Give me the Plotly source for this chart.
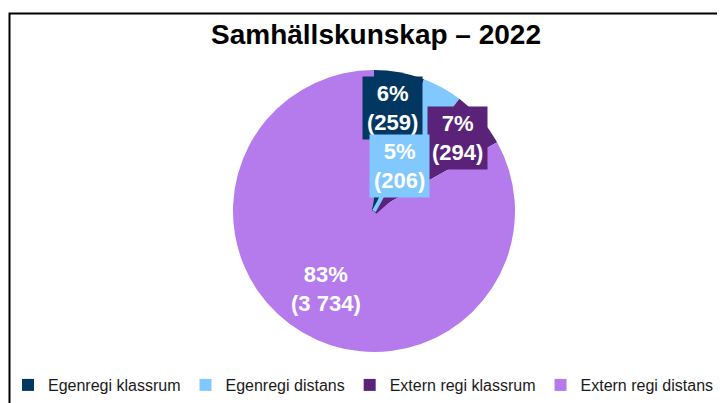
import plotly.graph_objects as go

# Data
categories = ["Egenregi klassrum", "Egenregi distans", "Extern regi klassrum", "Extern regi distans"]
values = [259, 206, 294, 3734]
colors = ["#023762", "#80C8FD", "#5A2379", "#B57AEC"]
title_text = "Samhällskunskap – 2022"

W, H = 725, 403
OFF = 8  # page body margin

def px(x):
    return (x - OFF) / W

def py(y):
    return 1 - (y - OFF) / H

total = sum(values)

def fmt_num(v):
    return f"{v:,}".replace(",", " ")

labels_text = [f"{round(v / total * 100)}%<br>({fmt_num(v)})" for v in values]

# pie geometry in window pixels
cx, cy, r = 374, 211, 141
dom_x = [px(cx - r), px(cx + r)]
dom_y = [py(cy + r), py(cy - r)]
pcx, pcy = px(cx), py(cy)

fig = go.Figure()
fig.add_trace(go.Pie(
    labels=categories,
    values=values,
    marker=dict(colors=colors, line=dict(width=0)),
    sort=False,
    direction="clockwise",
    rotation=0,
    textinfo="none",
    domain=dict(x=dom_x, y=dom_y),
    showlegend=True,
))

label_font = dict(family="Arial", size=22, color="white", weight="bold")
# label offsets (pixels, from pie centre) for callouts
offsets = [(18, -103), (25, -45), (83, -73), (-48, 78)]
arrow_w = [4, 4, 7, 0]
draw_order = [2, 0, 1]
annotations = []
for i in draw_order:
    ox, oy = offsets[i]
    annotations.append(dict(
        x=pcx, y=pcy, xref="paper", yref="paper",
        text=labels_text[i], showarrow=True, ax=ox, ay=oy,
        arrowhead=0, arrowwidth=arrow_w[i], arrowcolor=colors[i], standoff=0,
        bgcolor=colors[i], borderpad=4,
        font=label_font, align="center",
    ))
ox, oy = offsets[3]
annotations.append(dict(
    x=pcx, y=pcy, xref="paper", yref="paper",
    text=labels_text[3], showarrow=False, xshift=ox, yshift=-oy,
    font=label_font, align="center",
))

# title
annotations.append(dict(
    x=px(375.5), y=py(35), xref="paper", yref="paper",
    text=title_text, showarrow=False, xanchor="center", yanchor="middle",
    font=dict(family="Arial", size=28, color="black", weight="bold"),
))

fig.update_layout(
    width=W, height=H,
    margin=dict(l=0, r=0, t=0, b=0),
    paper_bgcolor="white",
    plot_bgcolor="white",
    annotations=annotations,
    legend=dict(
        orientation="h",
        x=0, xanchor="left",
        y=py(385), yanchor="middle",
        font=dict(family="Arial", size=16, color="#1a1a1a"),
        traceorder="normal",
        bgcolor="rgba(0,0,0,0)",
    ),
    shapes=[dict(
        type="rect", xref="paper", yref="paper",
        x0=px(9.5), x1=1.2, y0=-0.2, y1=py(13.5),
        line=dict(color="black", width=2), fillcolor="rgba(0,0,0,0)",
        layer="above",
    )],
)

fig.write_html("out.html")
